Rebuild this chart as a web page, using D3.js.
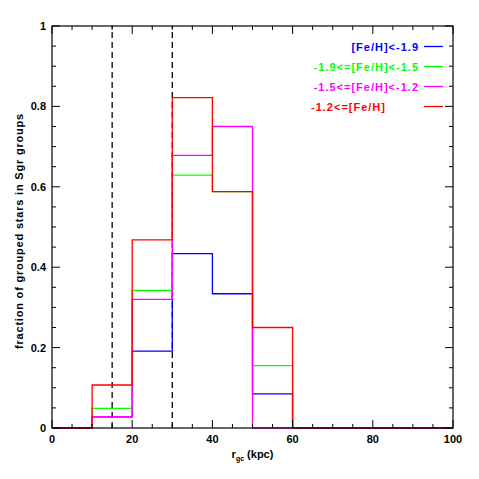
<!DOCTYPE html>
<meta charset="utf-8">
<style>
  body { margin: 0; background: #fff; }
  text { font-family: "Liberation Sans", Arial, sans-serif; font-weight: bold; }
</style>
<body>
<div id="chart"></div>
<script src="https://d3js.org/d3.v7.min.js"></script>
<script>
  // bin edges (kpc) and fractions per metallicity group
  const binEdges = [0, 10, 20, 30, 40, 50, 60, 70, 80, 90, 100];
  const fracBlue    = [0, 0.028, 0.191, 0.434, 0.334, 0.085, 0, 0, 0, 0];
  const fracGreen   = [0, 0.049, 0.342, 0.629, 0.588, 0.155, 0, 0, 0, 0];
  const fracMagenta = [0, 0.028, 0.320, 0.678, 0.750, 0, 0, 0, 0, 0];
  const fracRed     = [0, 0.107, 0.468, 0.822, 0.588, 0.250, 0, 0, 0, 0];
  const seriesNames = ["[Fe/H]<-1.9", "-1.9<=[Fe/H]<-1.5", "-1.5<=[Fe/H]<-1.2", "-1.2<=[Fe/H]"];
  const seriesColors = ["#0000ff", "#00ff00", "#ff00ff", "#ff0000"];
  const dashedAt = [15, 30];
  const xTicks = [0, 20, 40, 60, 80, 100];
  const yTicks = [0, 0.2, 0.4, 0.6, 0.8, 1];

  const W = 479, H = 479;
  const margin = { left: 52, right: 26, top: 26, bottom: 51 };

  const svg = d3.select("#chart").append("svg")
    .attr("width", W).attr("height", H);

  const x = d3.scaleLinear().domain([0, 100]).range([margin.left, W - margin.right]);
  const y = d3.scaleLinear().domain([0, 1]).range([H - margin.bottom, margin.top]);

  // dashed verticals
  svg.selectAll(".dash").data(dashedAt).join("line")
    .attr("x1", d => x(d)).attr("x2", d => x(d))
    .attr("y1", y(0)).attr("y2", y(1))
    .attr("stroke", "#000").attr("stroke-width", 1.3)
    .attr("stroke-dasharray", "6,4");

  // step histograms
  const allSeries = [fracBlue, fracGreen, fracMagenta, fracRed];
  const step = d3.line().x(d => x(d[0])).y(d => y(d[1]));
  allSeries.forEach((vals, k) => {
    const pts = [[binEdges[0], 0]];
    vals.forEach((v, i) => {
      pts.push([binEdges[i], v]);
      pts.push([binEdges[i + 1], v]);
    });
    pts.push([binEdges[binEdges.length - 1], 0]);
    svg.append("path").datum(pts)
      .attr("d", step)
      .attr("fill", "none")
      .attr("stroke", seriesColors[k])
      .attr("stroke-width", 1.3);
  });

  // frame
  svg.append("rect")
    .attr("x", x(0)).attr("y", y(1))
    .attr("width", x(100) - x(0)).attr("height", y(0) - y(1))
    .attr("fill", "none").attr("stroke", "#000").attr("stroke-width", 1.2);

  // ticks inward on all four sides
  const tickG = svg.append("g").attr("stroke", "#000").attr("stroke-width", 1);
  d3.range(0, 101, 5).forEach(v => {
    const len = v % 20 === 0 ? 8 : 4;
    tickG.append("line").attr("x1", x(v)).attr("x2", x(v)).attr("y1", y(0)).attr("y2", y(0) - len);
    tickG.append("line").attr("x1", x(v)).attr("x2", x(v)).attr("y1", y(1)).attr("y2", y(1) + len);
  });
  d3.range(0, 21).forEach(i => {
    const v = i * 0.05;
    const len = i % 4 === 0 ? 8 : 4;
    tickG.append("line").attr("y1", y(v)).attr("y2", y(v)).attr("x1", x(0)).attr("x2", x(0) + len);
    tickG.append("line").attr("y1", y(v)).attr("y2", y(v)).attr("x1", x(100)).attr("x2", x(100) - len);
  });

  // tick labels
  svg.selectAll(".xl").data(xTicks).join("text")
    .attr("x", d => x(d)).attr("y", y(0) + 15)
    .attr("text-anchor", "middle").attr("font-size", 11)
    .text(d => d);
  svg.selectAll(".yl").data(yTicks).join("text")
    .attr("x", x(0) - 6).attr("y", d => y(d) + 4)
    .attr("text-anchor", "end").attr("font-size", 11)
    .text(d => d);

  // axis titles
  const xt = svg.append("text")
    .attr("x", (x(0) + x(100)) / 2).attr("y", y(0) + 30)
    .attr("text-anchor", "middle").attr("font-size", 11);
  xt.append("tspan").text("r");
  xt.append("tspan").attr("font-size", 7).attr("dy", 3).text("gc");
  xt.append("tspan").attr("dy", -3).text(" (kpc)");

  svg.append("text")
    .attr("transform", `translate(23, ${(y(0) + y(1)) / 2 + 4}) rotate(-90)`)
    .attr("text-anchor", "middle").attr("font-size", 11)
    .attr("letter-spacing", 0.8)
    .text("fraction of grouped stars in Sgr groups");

  // legend (last label is left-aligned like the others' left edge)
  const legY = [46.5, 66.5, 86.5, 106.5];
  seriesNames.forEach((name, k) => {
    const last = k === seriesNames.length - 1;
    svg.append("text")
      .attr("x", last ? 311 : 419).attr("y", legY[k] + 4)
      .attr("text-anchor", last ? "start" : "end").attr("font-size", 11)
      .attr("letter-spacing", 1)
      .attr("fill", seriesColors[k])
      .text(name);
    svg.append("line")
      .attr("x1", 424).attr("x2", 443)
      .attr("y1", legY[k]).attr("y2", legY[k])
      .attr("stroke", seriesColors[k]).attr("stroke-width", 1.3);
  });
</script>
</body>
